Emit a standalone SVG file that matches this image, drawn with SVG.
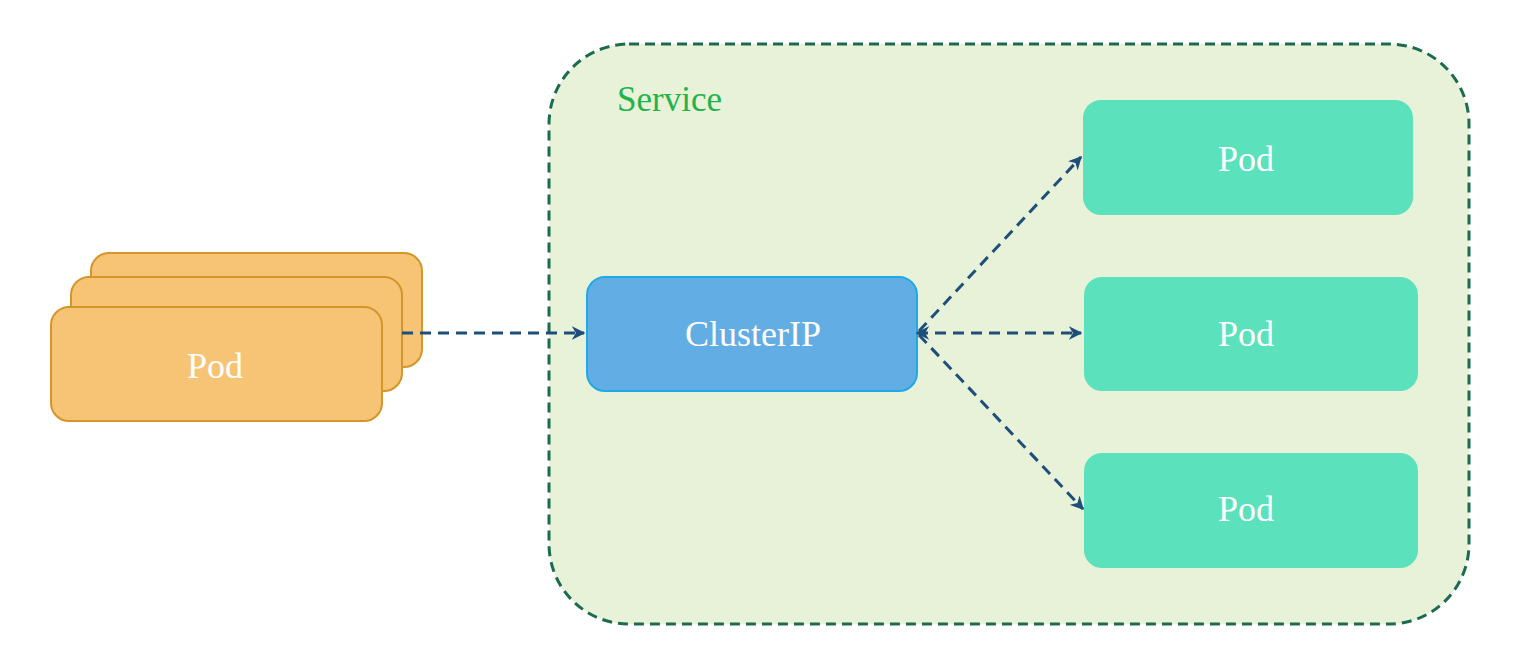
<svg xmlns="http://www.w3.org/2000/svg" width="1530" height="668" viewBox="0 0 1530 668">
<defs>
<style>
.orange{fill:#F7C374;stroke:#D4962A;stroke-width:2}
.teal{fill:#5CE1BD}
.blue{fill:#62ADE3;stroke:#1FA9E6;stroke-width:2}
.lbl{font-family:"Liberation Serif",serif;font-size:36px;fill:#ffffff;text-anchor:middle}
.conn{stroke:#1E4E7A;stroke-width:3;stroke-dasharray:11 7;fill:none}
</style>
<marker id="ah" viewBox="0 0 10 10" refX="9" refY="5" markerWidth="4.5" markerHeight="4.5" orient="auto-start-reverse" markerUnits="strokeWidth">
<path d="M0,0 L10,5 L0,10 L3,5 Z" fill="#1E4E7A"/>
</marker>
</defs>
<rect width="1530" height="668" fill="#ffffff"/>
<g id="service">
<rect x="549" y="44" width="920" height="580" rx="80" ry="80" fill="#E8F2D9" stroke="#1C6B4D" stroke-width="3" stroke-dasharray="10 6"/>
<text x="617" y="111" font-family="Liberation Serif,serif" font-size="35" fill="#22B24C">Service</text>
</g>
<g id="pod-stack">
<rect class="orange" x="91" y="253" width="331" height="114" rx="18"/>
<rect class="orange" x="71" y="277" width="331" height="114" rx="18"/>
<rect class="orange" x="51" y="307" width="331" height="114" rx="18"/>
<text class="lbl" x="215" y="378">Pod</text>
</g>
<g id="clusterip">
<rect class="blue" x="587" y="277" width="330" height="114" rx="18"/>
<text class="lbl" x="753" y="346">ClusterIP</text>
</g>
<g id="pod1">
<rect class="teal" x="1083" y="100" width="330" height="115" rx="18"/>
<text class="lbl" x="1246" y="171">Pod</text>
</g>
<g id="pod2">
<rect class="teal" x="1084" y="277" width="334" height="114" rx="18"/>
<text class="lbl" x="1246" y="346">Pod</text>
</g>
<g id="pod3">
<rect class="teal" x="1084" y="453" width="334" height="115" rx="18"/>
<text class="lbl" x="1246" y="521">Pod</text>
</g>
<g id="connectors">
<line class="conn" x1="402" y1="333" x2="584" y2="333" marker-end="url(#ah)"/>
<line class="conn" x1="917" y1="333" x2="1081" y2="333" marker-start="url(#ah)" marker-end="url(#ah)"/>
<line class="conn" x1="919" y1="331" x2="1081" y2="157" marker-end="url(#ah)"/>
<line class="conn" x1="919" y1="335" x2="1083" y2="509" marker-end="url(#ah)"/>
</g>
</svg>
